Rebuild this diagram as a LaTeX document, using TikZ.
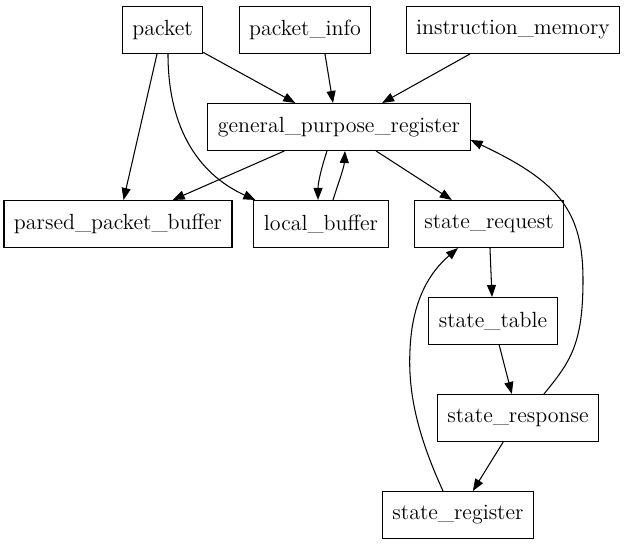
\documentclass[tikz,border=0pt]{standalone}
\usepackage{tikz}
\usetikzlibrary{positioning}
\usetikzlibrary{arrows.meta}
\tikzstyle{blk}=[rectangle,draw=black,line width=0.6pt,minimum width=1.5cm,minimum height=0.94cm,inner xsep=0.2cm,font=\fontsize{12.5}{15}\selectfont]
\tikzstyle{arr}=[line width=0.6pt,-{Triangle[length=2.4mm,width=1.8mm]}]

\begin{document}
\begin{tikzpicture}[x=0.02cm,y=-0.02cm]

				\useasboundingbox (0,0) rectangle (627,547);

				\begin{scope}
				\node [blk] (pkt) at (162.5,30) {packet};
				\node [blk] (pktinfo) at (305,30) {packet\_info};
				\node [blk] (imem) at (513,30) {instruction\_memory};
				\node [blk] (gpr) at (339,127) {general\_purpose\_register};
				\node [blk] (ppb) at (118,224) {parsed\_packet\_buffer};
				\node [blk] (lbuf) at (321,224) {local\_buffer};
				\node [blk] (sreq) at (489,224) {state\_request};
				\node [blk] (stab) at (493,321) {state\_table};
				\node [blk] (sresp) at (518,418) {state\_response};
				\node [blk] (sreg) at (458,515) {state\_register};

				\draw[arr] (pkt) -- (ppb);
				\draw[arr] ([xshift=0.11cm]pkt.south) .. controls (168,130) and (200,175) .. ([xshift=0.04cm]lbuf.north west);
				\draw[arr] (pkt) -- (gpr);
				\draw[arr] ([xshift=0.4cm]pktinfo.south) -- ([xshift=-0.12cm]gpr.north);
				\draw[arr] (imem) -- (gpr);

				\draw[arr] (gpr) -- (ppb);
				\draw[arr] ([xshift=-0.24cm]gpr.south) .. controls (322,166) and (318,182) .. ([xshift=-0.06cm]lbuf.north);
				\draw[arr] ([xshift=0.24cm]lbuf.north) .. controls (338,184) and (344,168) .. ([xshift=0.12cm]gpr.south);
				\draw[arr] (gpr) -- (sreq);

				\draw[arr] (sreq) -- (stab);
				\draw[arr] (stab) -- (sresp);
				\draw[arr] (sresp) -- (sreg);
				\draw[arr] ([xshift=0.52cm]sresp.north) .. controls (570,362) and (583,345) .. (583,280) .. controls (583,212) and (560,182) .. ([yshift=-0.26cm]gpr.east);
				\draw[arr] ([xshift=-0.3cm]sreg.north) .. controls (416,432) and (408,390) .. (410,350) .. controls (412,300) and (430,272) .. ([xshift=-0.62cm]sreq.south);
				\end{scope}

				\end{tikzpicture}
\end{document}
